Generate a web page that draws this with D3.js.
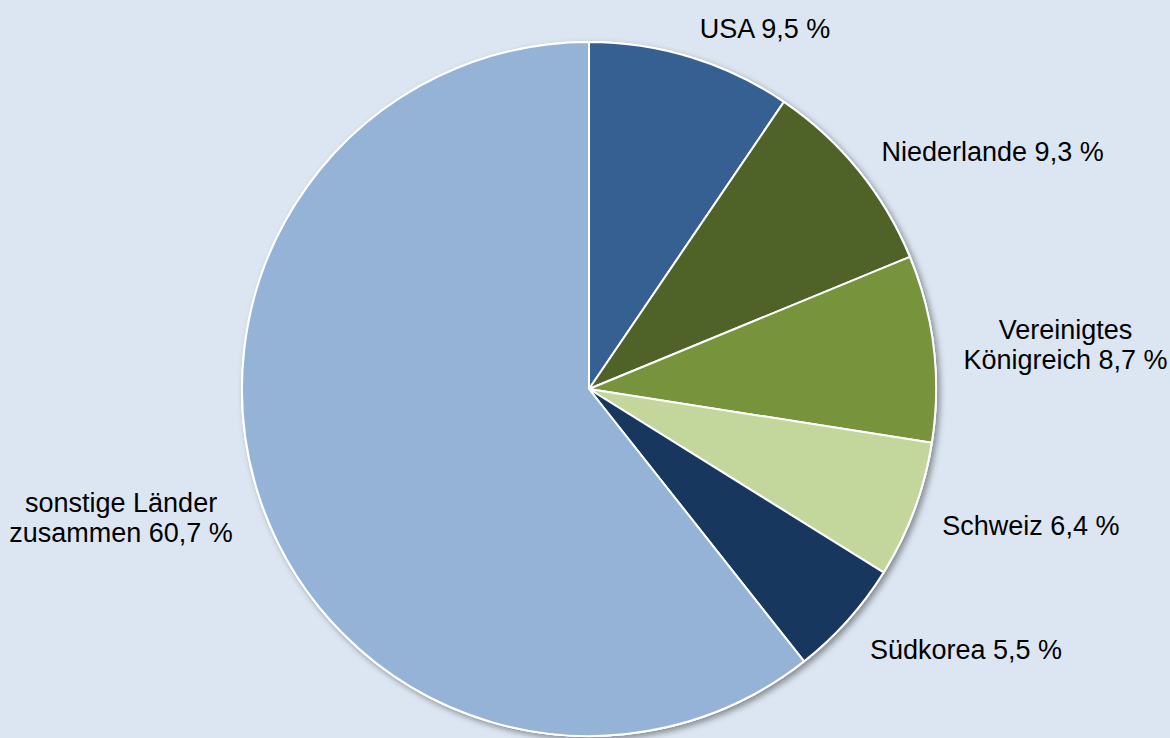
<!DOCTYPE html>
<html>
<head>
<meta charset="utf-8">
<script src="https://cdn.jsdelivr.net/npm/d3@7"></script>
<style>
  html, body { margin: 0; padding: 0; background: #DCE6F2; }
  svg { display: block; }
  text { font-family: "Liberation Sans", Arial, sans-serif; fill: #000; }
</style>
</head>
<body>
<svg id="chart" width="1170" height="738"></svg>
<script>
// Shares of countries (percent), clockwise from 12 o'clock
const countries = ["USA", "Niederlande", "Vereinigtes Königreich", "Schweiz", "Südkorea", "sonstige Länder zusammen"];
const shares = [9.5, 9.3, 8.7, 6.4, 5.5, 60.7];
const labelLines = [["USA 9,5 %"], ["Niederlande 9,3 %"], ["Vereinigtes", "Königreich 8,7 %"], ["Schweiz 6,4 %"], ["Südkorea 5,5 %"], ["sonstige Länder", "zusammen 60,7 %"]];
const sliceColors = ["#366092", "#4F6228", "#77933C", "#C3D69B", "#17375E", "#95B3D7"];

const W = 1170, H = 738;
const cx = 589, cy = 389, radius = 347;
const fontSize = 27, lineH = 30;

const svg = d3.select("#chart");

const defs = svg.append("defs");
const shadow = defs.append("filter").attr("id", "pieShadow")
  .attr("x", "-10%").attr("y", "-10%").attr("width", "120%").attr("height", "120%");
shadow.append("feDropShadow")
  .attr("dx", 3).attr("dy", 3).attr("stdDeviation", 3)
  .attr("flood-color", "#000").attr("flood-opacity", 0.4);

const data = countries.map((c, i) => ({ country: c, value: shares[i], lines: labelLines[i], color: sliceColors[i] }));

const pie = d3.pie().sort(null).value(d => d.value);
const arcs = pie(data);
const arc = d3.arc().innerRadius(0).outerRadius(radius);

const g = svg.append("g").attr("transform", `translate(${cx},${cy})`);

// shadow disc under the pie
g.append("circle").attr("r", radius + 1).attr("fill", "#fff").attr("filter", "url(#pieShadow)");

g.selectAll("path.slice")
  .data(arcs)
  .join("path")
  .attr("class", "slice")
  .attr("d", arc)
  .attr("fill", d => d.data.color)
  .attr("stroke", "#fff")
  .attr("stroke-width", 2)
  .attr("stroke-linejoin", "round");

// labels outside the slices, anchored at the mid-angle
const labelR = radius + 30;
g.selectAll("text.label")
  .data(arcs)
  .join("text")
  .attr("class", "label")
  .attr("font-size", fontSize)
  .attr("text-anchor", "middle")
  .each(function(d) {
    const a = (d.startAngle + d.endAngle) / 2;
    const px = Math.sin(a) * labelR;
    // labels below the equator sit a little lower
    const py = -Math.cos(a) * labelR + Math.max(0, -Math.cos(a)) * 14;
    const right = Math.sin(a) >= 0;
    const n = d.data.lines.length;
    const spans = d3.select(this).selectAll("tspan").data(d.data.lines).join("tspan").text(s => s);
    const widths = [];
    spans.each(function() { widths.push(this.getComputedTextLength()); });
    const bw = d3.max(widths);
    const bx = right ? px + bw / 2 : px - bw / 2;
    const y0 = py - (n - 1) * lineH / 2 + fontSize * 0.35;
    spans.attr("x", bx).attr("y", (s, i) => y0 + i * lineH);
  });
</script>
</body>
</html>
